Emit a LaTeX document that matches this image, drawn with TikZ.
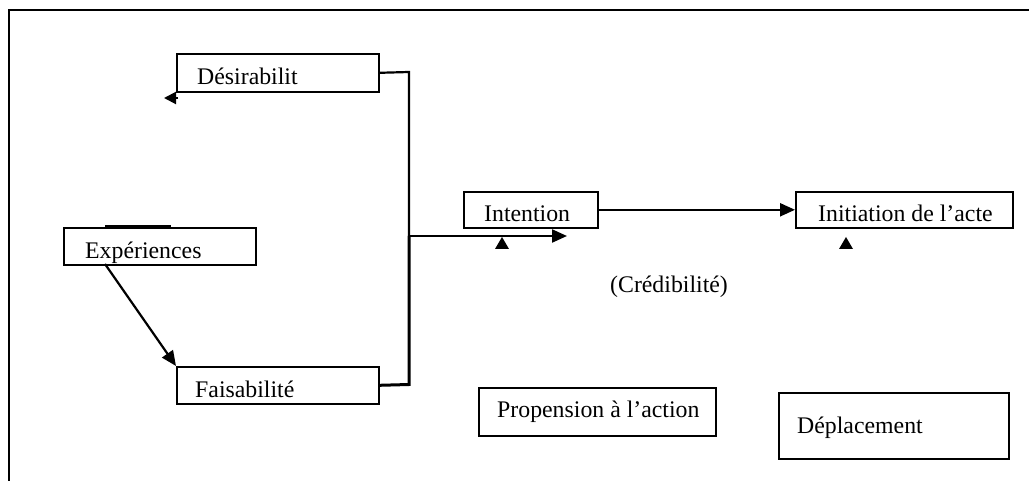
\documentclass[tikz,border=0pt]{standalone}
\usepackage{fontspec}
\setmainfont{Liberation Serif}
\usetikzlibrary{arrows.meta}
\begin{document}
\begin{tikzpicture}[x=1pt,y=-1pt,
  box/.style={draw,line width=1.6pt,rectangle,inner sep=0pt,anchor=north west},
  lbl/.style={inner sep=0pt,anchor=base west,font=\fontsize{23.8}{28}\selectfont},
  link/.style={line width=2.2pt},
  tip/.style={-{Triangle[length=15pt,width=13pt]},line width=2.2pt}]
\useasboundingbox (0,0) rectangle (1029,481);
% outer frame (top and left sides only)
\draw[line width=2.2pt] (1029,10) -- (9,10) -- (9,481);

% boxes
\node[box,minimum width=202pt,minimum height=38pt] (desir)  at (176,53)  {};
\node[box,minimum width=192pt,minimum height=37pt] (exper)  at (63,227)  {};
\node[box,minimum width=202pt,minimum height=37pt] (faisab) at (176,366) {};
\node[box,minimum width=134pt,minimum height=36pt] (intent) at (463,191) {};
\node[box,minimum width=217pt,minimum height=36pt] (initia) at (795,191) {};
\node[box,minimum width=237pt,minimum height=48pt] (propen) at (478,387) {};
\node[box,minimum width=230pt,minimum height=66pt] (deplac) at (778,392) {};

% labels
\node[lbl] (tdesir)  at (197,85)  {Désirabilit};
\node[lbl] (texper)  at (85,259)  {Expériences};
\node[lbl] (tfaisab) at (195,397) {Faisabilité};
\node[lbl] (tintent) at (484,222) {Intention};
\node[lbl] (tinitia) at (818,222) {Initiation de l’acte};
\node[lbl] (tpropen) at (497,417) {Propension à l’action};
\node[lbl] (tdeplac) at (797,433) {Déplacement};
\node[lbl] (tcred)   at (610,293) {(Crédibilité)};

% thick segment on top of the Expériences box
\draw[line width=3pt] (105,227) -- (171,227);

% connectors
\coordinate (junction) at (409,236);
\coordinate (intentIn) at (567,236);
\draw[link] (desir.east) -- (409,72) -- (junction);
\draw[line width=3pt] (faisab.east) -- (409,384.5) -- (junction);
\draw[tip] (junction) -- (intentIn);
\draw[tip] (intent.east) -- (initia.west);
\draw[tip] (105,264) -- (faisab.north west);

% small arrowhead at the lower left corner of Désirabilit
\coordinate (desirTail) at (178,98);
\coordinate (desirTip) at (164,98);
\draw[-{Triangle[length=12pt,width=12pt]},line width=2pt] (desirTail) -- (desirTip);

% small upward triangles below Intention and Initiation
\fill (495,249) -- (509,249) -- (502,237) -- cycle;
\fill (839,249) -- (853,249) -- (846,237) -- cycle;
\end{tikzpicture}
\end{document}
